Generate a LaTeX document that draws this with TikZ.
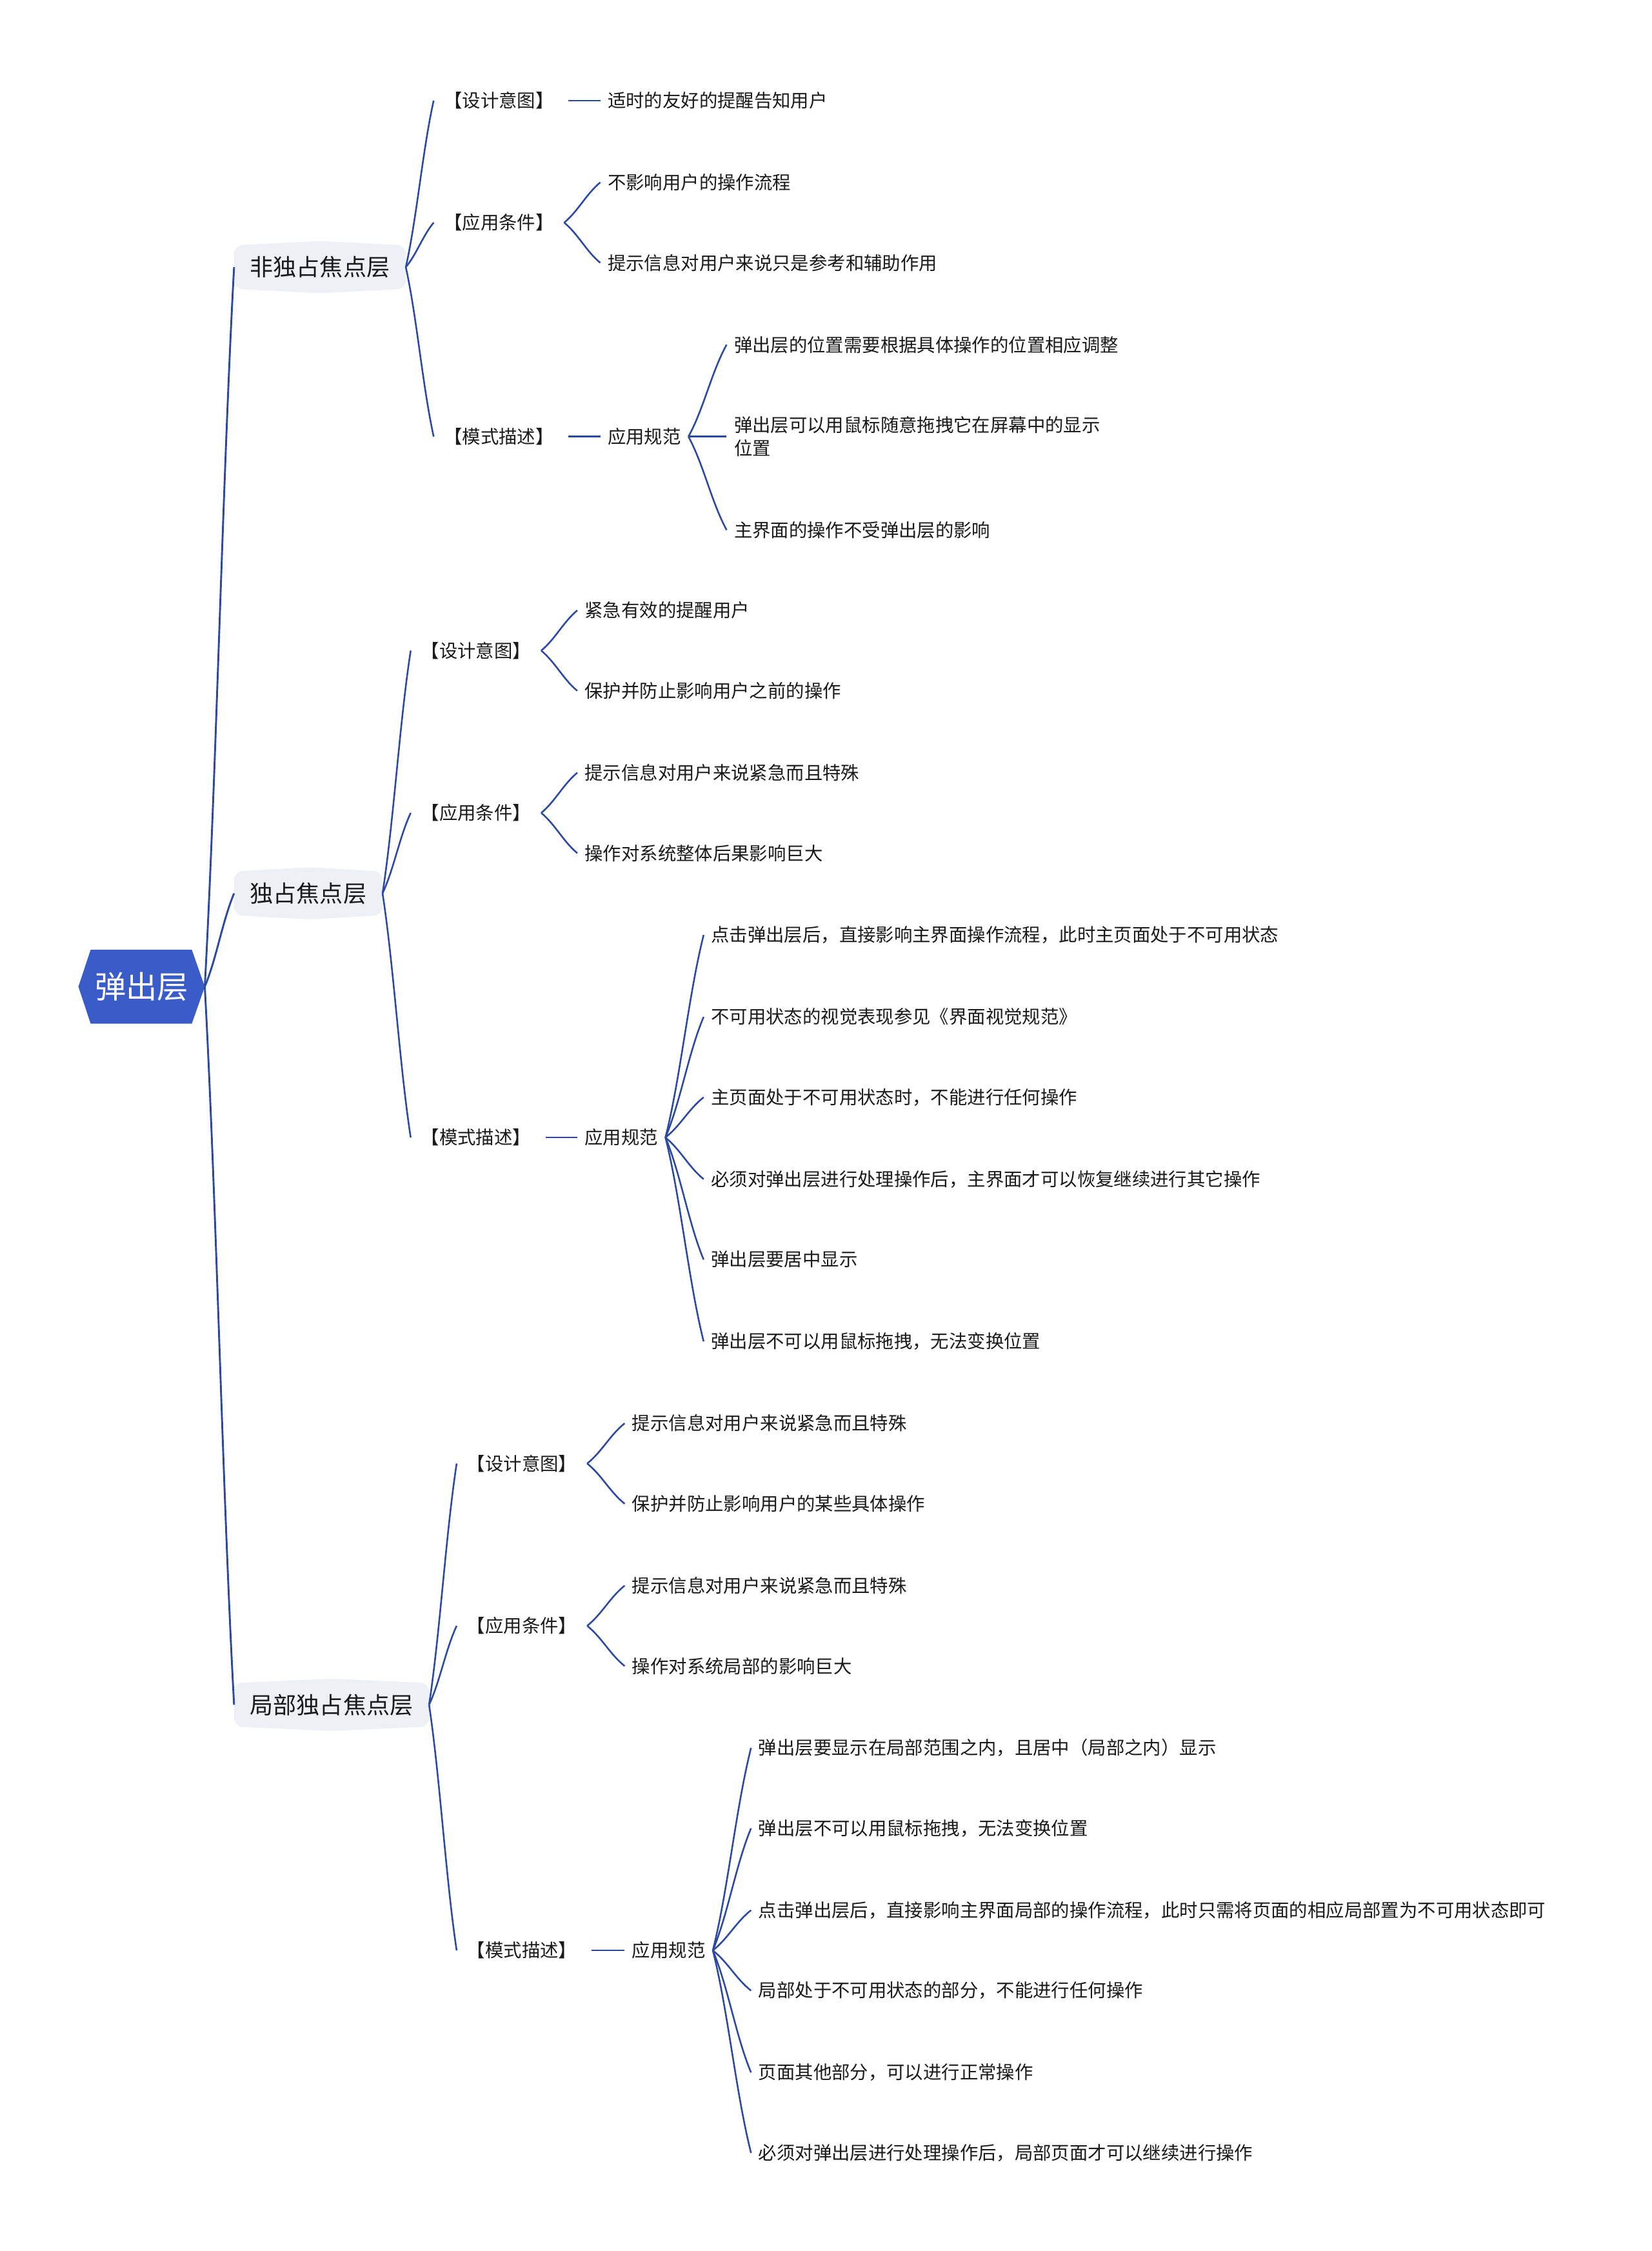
\documentclass[tikz,border=0pt]{standalone}
\usepackage{fontspec}
\setmainfont{Noto Sans CJK SC}
\usetikzlibrary{calc}
\pgfdeclarelayer{background}
\pgfsetlayers{background,main}
\definecolor{linec}{HTML}{2B49A0}
\definecolor{rootc}{HTML}{3A5CC8}
\definecolor{lonec}{HTML}{EDF0F5}
\definecolor{txtc}{HTML}{1A1A1A}
\tikzset{
  conn/.style={draw=linec, line width=1.15pt},
  rconn/.style={draw=linec, line width=1.3pt},
  curv/.style={to path={let \p1=(\tikztostart), \p2=(\tikztotarget) in
     .. controls ({\x1+0.4*(\x2-\x1)},{\y1+0.3*(\y2-\y1)}) and ({\x2-0.4*(\x2-\x1)},{\y2-0.3*(\y2-\y1)}) .. (\tikztotarget)}},
  leaf/.style={anchor=west, inner xsep=5pt, inner ysep=2pt, text=txtc, align=left, font=\fontsize{12.75pt}{16pt}\selectfont},
  ltwo/.style={leaf, inner xsep=7pt},
  lone/.style={anchor=west, inner xsep=11pt, inner ysep=0pt, minimum height=30pt, text=txtc, font=\fontsize{16.2pt}{19pt}\selectfont},
  rootn/.style={inner sep=0pt, minimum width=87.6pt, minimum height=51pt, text=white, font=\fontsize{21.7pt}{24pt}\selectfont},
  lonebg/.style={fill=lonec, rounded corners=6pt}
}
\begin{document}
\begin{tikzpicture}[x=1pt,y=-1pt]
\useasboundingbox (0,0) rectangle (1150,1567.3);

% root
\node[rootn] (root) at (98.6,687) {弹出层};

% level 1
\node[lone] (A) at (163,186) {非独占焦点层};
\node[lone] (B) at (163,622) {独占焦点层};
\node[lone] (C) at (163,1187) {局部独占焦点层};

% section A
\node[ltwo] (a1) at (302,70) {【设计意图】};
\node[leaf] (a1c) at (418,70) {适时的友好的提醒告知用户};
\node[ltwo] (a2) at (302,155) {【应用条件】};
\node[leaf] (a2x) at (418,127) {不影响用户的操作流程};
\node[leaf] (a2y) at (418,183) {提示信息对用户来说只是参考和辅助作用};
\node[ltwo] (a3) at (302,304) {【模式描述】};
\node[leaf] (a3r) at (418,304) {应用规范};
\node[leaf] (a3x) at (506,240) {弹出层的位置需要根据具体操作的位置相应调整};
\node[leaf] (a3y) at (506,304) {弹出层可以用鼠标随意拖拽它在屏幕中的显示\\位置};
\node[leaf] (a3z) at (506,369) {主界面的操作不受弹出层的影响};

% section B
\node[ltwo] (b1) at (286,453) {【设计意图】};
\node[leaf] (b1x) at (402,425) {紧急有效的提醒用户};
\node[leaf] (b1y) at (402,481) {保护并防止影响用户之前的操作};
\node[ltwo] (b2) at (286,566) {【应用条件】};
\node[leaf] (b2x) at (402,538) {提示信息对用户来说紧急而且特殊};
\node[leaf] (b2y) at (402,594) {操作对系统整体后果影响巨大};
\node[ltwo] (b3) at (286,792) {【模式描述】};
\node[leaf] (b3r) at (402,792) {应用规范};
\node[leaf] (b3a) at (490,651) {点击弹出层后，直接影响主界面操作流程，此时主页面处于不可用状态};
\node[leaf] (b3b) at (490,708) {不可用状态的视觉表现参见《界面视觉规范》};
\node[leaf] (b3c) at (490,764) {主页面处于不可用状态时，不能进行任何操作};
\node[leaf] (b3d) at (490,821) {必须对弹出层进行处理操作后，主界面才可以恢复继续进行其它操作};
\node[leaf] (b3e) at (490,877) {弹出层要居中显示};
\node[leaf] (b3f) at (490,934) {弹出层不可以用鼠标拖拽，无法变换位置};

% section C
\node[ltwo] (c1) at (318,1019) {【设计意图】};
\node[leaf] (c1x) at (435,991) {提示信息对用户来说紧急而且特殊};
\node[leaf] (c1y) at (435,1047) {保护并防止影响用户的某些具体操作};
\node[ltwo] (c2) at (318,1132) {【应用条件】};
\node[leaf] (c2x) at (435,1104) {提示信息对用户来说紧急而且特殊};
\node[leaf] (c2y) at (435,1160) {操作对系统局部的影响巨大};
\node[ltwo] (c3) at (318,1358) {【模式描述】};
\node[leaf] (c3r) at (435,1358) {应用规范};
\node[leaf] (c3a) at (523,1217) {弹出层要显示在局部范围之内，且居中（局部之内）显示};
\node[leaf] (c3b) at (523,1273) {弹出层不可以用鼠标拖拽，无法变换位置};
\node[leaf] (c3c) at (523,1330) {点击弹出层后，直接影响主界面局部的操作流程，此时只需将页面的相应局部置为不可用状态即可};
\node[leaf] (c3d) at (523,1386) {局部处于不可用状态的部分，不能进行任何操作};
\node[leaf] (c3e) at (523,1443) {页面其他部分，可以进行正常操作};
\node[leaf] (c3f) at (523,1499) {必须对弹出层进行处理操作后，局部页面才可以继续进行操作};

\begin{pgfonlayer}{background}
  \fill[rootc] (root.west) -- ($(root.north west)+(8.5,0)$) -- ($(root.north east)+(-9,0)$)
     -- (root.east) -- ($(root.south east)+(-9,0)$) -- ($(root.south west)+(8.5,0)$) -- cycle;
  \foreach \q in {A,B,C}{
    \fill[lonebg] (\q.south west) -- (\q.north west) -- ($(\q.north)+(0,-3)$) -- (\q.north east)
       -- (\q.south east) -- ($(\q.south)+(0,3)$) -- cycle;
  }
\end{pgfonlayer}

% connectors root
\draw[rconn] (root.east) to[curv] (A.west);
\draw[rconn] (root.east) to[curv] (B.west);
\draw[rconn] (root.east) to[curv] (C.west);

% A
\draw[conn] (A.east) to[curv] (a1.west);
\draw[conn] (A.east) to[curv] (a2.west);
\draw[conn] (A.east) to[curv] (a3.west);
\draw[conn, shorten <=3pt] (a1.east) -- (a1c.west);
\draw[conn] (a2.east) to[curv] (a2x.west);
\draw[conn] (a2.east) to[curv] (a2y.west);
\draw[conn, shorten <=3pt] (a3.east) -- (a3r.west);
\draw[conn] (a3r.east) to[curv] (a3x.west);
\draw[conn] (a3r.east) -- (a3y.west);
\draw[conn] (a3r.east) to[curv] (a3z.west);

% B
\draw[conn] (B.east) to[curv] (b1.west);
\draw[conn] (B.east) to[curv] (b2.west);
\draw[conn] (B.east) to[curv] (b3.west);
\draw[conn] (b1.east) to[curv] (b1x.west);
\draw[conn] (b1.east) to[curv] (b1y.west);
\draw[conn] (b2.east) to[curv] (b2x.west);
\draw[conn] (b2.east) to[curv] (b2y.west);
\draw[conn, shorten <=3pt] (b3.east) -- (b3r.west);
\foreach \q in {b3a,b3b,b3c,b3d,b3e,b3f}{
  \draw[conn] (b3r.east) to[curv] (\q.west);
}

% C
\draw[conn] (C.east) to[curv] (c1.west);
\draw[conn] (C.east) to[curv] (c2.west);
\draw[conn] (C.east) to[curv] (c3.west);
\draw[conn] (c1.east) to[curv] (c1x.west);
\draw[conn] (c1.east) to[curv] (c1y.west);
\draw[conn] (c2.east) to[curv] (c2x.west);
\draw[conn] (c2.east) to[curv] (c2y.west);
\draw[conn, shorten <=3pt] (c3.east) -- (c3r.west);
\foreach \q in {c3a,c3b,c3c,c3d,c3e,c3f}{
  \draw[conn] (c3r.east) to[curv] (\q.west);
}
\end{tikzpicture}
\end{document}
